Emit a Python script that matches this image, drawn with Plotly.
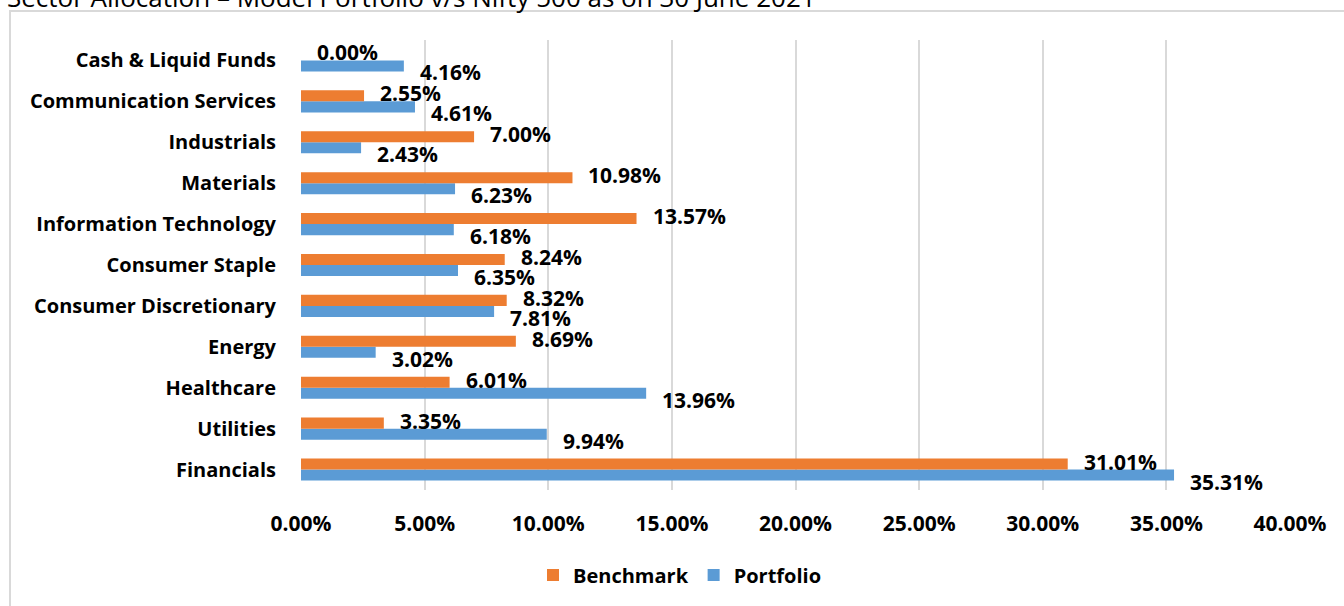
import plotly.graph_objects as go

# ---- data (top-to-bottom order as shown) ----
categories = ["Cash & Liquid Funds", "Communication Services", "Industrials", "Materials",
              "Information Technology", "Consumer Staple", "Consumer Discretionary",
              "Energy", "Healthcare", "Utilities", "Financials"]
benchmark = [0.00, 2.55, 7.00, 10.98, 13.57, 8.24, 8.32, 8.69, 6.01, 3.35, 31.01]
portfolio = [4.16, 4.61, 2.43, 6.23, 6.18, 6.35, 7.81, 3.02, 13.96, 9.94, 35.31]
x_ticks = [0, 5, 10, 15, 20, 25, 30, 35, 40]
title_text = "Sector Allocation – Model Portfolio v/s Nifty 500 as on 30 June 2021"

ORANGE = "#ED7D31"
BLUE = "#5B9BD5"
FONT = "Open Sans"

W, H = 1344, 606
ML, MR, MT, MB = 301, 54, 40, 116
PW, PH = W - ML - MR, H - MT - MB

def px_x(p):
    return (p - ML) / PW

def px_y(p):
    return (H - MB - p) / PH

cats_bottom_up = categories[::-1]

fig = go.Figure()
fig.add_trace(go.Bar(name="Portfolio", y=categories, x=portfolio, orientation="h",
                     marker=dict(color=BLUE, line=dict(width=0)), legendrank=2))
fig.add_trace(go.Bar(name="Benchmark", y=categories, x=benchmark, orientation="h",
                     marker=dict(color=ORANGE, line=dict(width=0)), legendrank=1))

num_font = dict(family=FONT, size=21, color="#000000", weight="bold")
cat_font = dict(family=FONT, size=20, color="#000000", weight="bold")
annotations = []
for c, b, p in zip(categories, benchmark, portfolio):
    annotations.append(dict(x=b, y=c, xref="x", yref="y", text=f"{b:.2f}%", showarrow=False,
                            xanchor="left", yanchor="middle", xshift=14, yshift=8,
                            font=num_font))
    annotations.append(dict(x=p, y=c, xref="x", yref="y", text=f"{p:.2f}%", showarrow=False,
                            xanchor="left", yanchor="middle", xshift=14, yshift=-12,
                            font=num_font))

annotations.append(dict(x=px_x(5), y=px_y(17), xref="paper", yref="paper", text=title_text,
                        showarrow=False, xanchor="left", yanchor="bottom",
                        font=dict(family=FONT, size=26, color="#000000")))

fig.update_layout(
    width=W, height=H,
    margin=dict(l=ML, r=MR, t=MT, b=MB, autoexpand=False),
    paper_bgcolor="white", plot_bgcolor="white",
    barmode="group", bargap=0.46, bargroupgap=0,
    font=dict(family=FONT, size=20, color="#000000"),
    showlegend=True,
    legend=dict(orientation="h", x=px_x(680), xanchor="center", y=px_y(575), yanchor="middle",
                font=cat_font, itemwidth=30, tracegroupgap=0, traceorder="normal"),
    annotations=annotations,
    shapes=[dict(type="rect", xref="paper", yref="paper",
                 x0=px_x(10), x1=px_x(1360), y0=px_y(620), y1=px_y(11),
                 line=dict(color="#d9d9d9", width=2), fillcolor="rgba(0,0,0,0)", layer="below")],
)

fig.update_xaxes(range=[0, 40], tickvals=x_ticks, ticktext=[f"{v:.2f}%" for v in x_ticks],
                 showgrid=True, gridcolor="#d9d9d9", gridwidth=2, zeroline=False,
                 showline=False, ticks="", ticklabelstandoff=19, automargin=False,
                 tickfont=num_font)
fig.update_yaxes(categoryorder="array", categoryarray=cats_bottom_up,
                 range=[-0.5, len(categories) - 0.5], autorange=False,
                 showgrid=False, zeroline=False, showline=False, ticks="",
                 ticklabelstandoff=24, automargin=False,
                 tickfont=cat_font)

fig.write_html("out.html")
